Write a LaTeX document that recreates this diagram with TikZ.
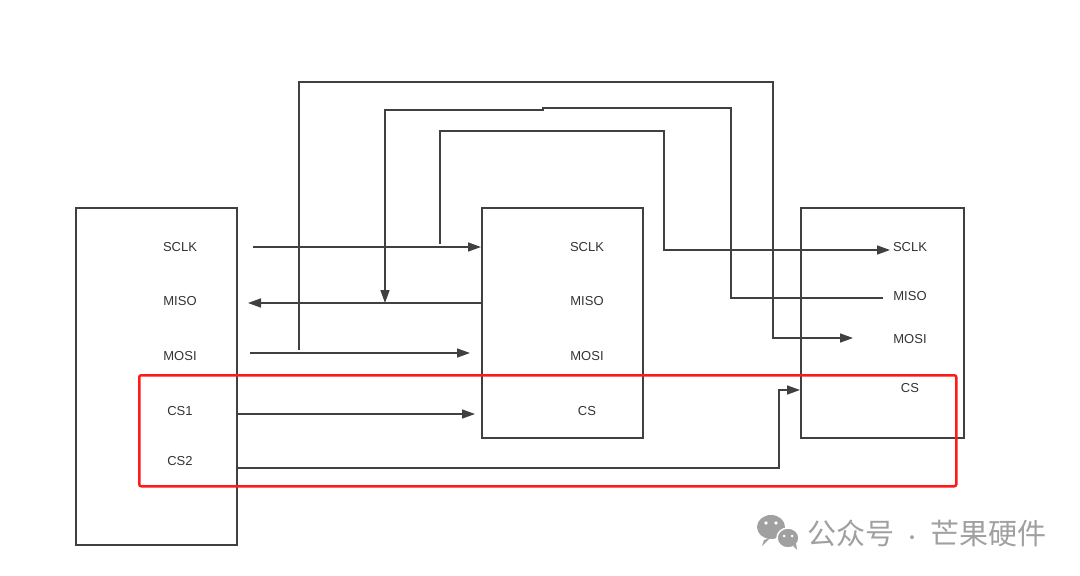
\documentclass[tikz,border=0pt]{standalone}
\usepackage{fontspec}
\setmainfont{Liberation Sans}
\newfontfamily\cjk{Noto Sans CJK SC}
\usetikzlibrary{arrows.meta}
\definecolor{linec}{HTML}{404040}
\definecolor{textc}{HTML}{333333}
\definecolor{markc}{HTML}{A0A0A0}
\definecolor{redc}{HTML}{FF1A1A}
\begin{document}
\begin{tikzpicture}[x=1pt,y=-1pt,
  box/.style={draw=linec, line width=1.5pt, inner sep=0pt, anchor=north west},
  lbl/.style={font=\fontsize{13}{15}\selectfont, text=textc, inner sep=0pt},
  wire/.style={draw=linec, line width=1.5pt},
  arr/.style={wire, -{Triangle[length=13pt,width=9pt]}}]
\useasboundingbox (0,0) rectangle (1080,576);
\fill[white] (0,0) rectangle (1080,576);

% boxes
\node[box, minimum width=161pt, minimum height=337pt] (L) at (75,207) {};
\node[box, minimum width=161pt, minimum height=230pt] (M) at (481,207) {};
\node[box, minimum width=163pt, minimum height=230pt] (Rb) at (800,207) {};

% labels
\node[lbl] (lsclk) at (180,247) {SCLK};
\node[lbl] (lmiso) at (180,301) {MISO};
\node[lbl] (lmosi) at (180,356) {MOSI};
\node[lbl] (lcs1) at (180,411) {CS1};
\node[lbl] (lcs2) at (180,461) {CS2};
\node[lbl] (msclk) at (587,247) {SCLK};
\node[lbl] (mmiso) at (587,301) {MISO};
\node[lbl] (mmosi) at (587,356) {MOSI};
\node[lbl] (mcs) at (587,411) {CS};
\node[lbl] (rsclk) at (910,247) {SCLK};
\node[lbl] (rmiso) at (910,296) {MISO};
\node[lbl] (rmosi) at (910,339) {MOSI};
\node[lbl] (rcs) at (910,388) {CS};

% port coordinates
\coordinate (a1) at (253,247);
\coordinate (a2) at (481,247);
\coordinate (b1) at (481,303);
\coordinate (b2) at (248,303);
\coordinate (c1) at (250,353);
\coordinate (c2) at (470,353);
\coordinate (d1) at (236,414);
\coordinate (d2) at (475,414);
\coordinate (e1) at (236,468);
\coordinate (e2) at (800,390);
\coordinate (f1) at (440,244);
\coordinate (f2) at (890,250);
\coordinate (g1) at (883,298);
\coordinate (g2) at (385,303);
\coordinate (h1) at (299,350);
\coordinate (h2) at (853,338);

% connectors
\draw[arr] (a1) -- (a2);
\draw[arr] (b1) -- (b2);
\draw[arr] (c1) -- (c2);
\draw[arr] (d1) -- (d2);
\draw[arr] (e1) -- (779,468) -- (779,390) -- (e2);
\draw[arr] (f1) -- (440,131) -- (664,131) -- (664,250) -- (f2);
\draw[wire] (g1) -- (731,298) -- (731,108) -- (543,108) -- (543,110) -- (385,110) -- (385,290);
\draw[arr] (385,285) -- (g2);
\draw[arr] (h1) -- (299,82) -- (773,82) -- (773,338) -- (h2);

% red highlight
\node[draw=redc, line width=2.5pt, rounded corners=2pt, inner sep=0pt, anchor=north west,
      minimum width=817pt, minimum height=111pt] (hl) at (138,374) {};

% watermark
\fill[markc] (771,527) ellipse [x radius=14, y radius=12];
\fill[markc] (764,540) -- (762,546) -- (770,538) -- cycle;
\fill[markc, draw=white, line width=1.5pt] (788,538) ellipse [x radius=11, y radius=10];
\fill[markc] (793,546) -- (797,550) -- (796,543) -- cycle;
\fill[white] (766,523) circle (1.8) (776,523) circle (1.8) (784,536) circle (1.5) (792,536) circle (1.5);
\node[anchor=west, inner sep=0pt, text=markc, font=\cjk\fontsize{29}{33}\selectfont] (wm) at (807,533) {公众号{\fontsize{18}{20}\selectfont\hspace{9pt}·\hspace{9pt}}芒果硬件};
\end{tikzpicture}
\end{document}
